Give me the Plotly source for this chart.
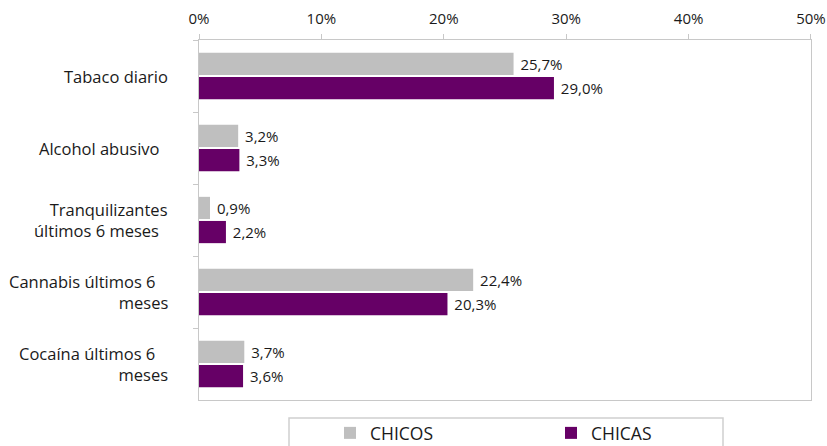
import plotly.graph_objects as go

categories = ["Tabaco diario", "Alcohol abusivo", "Tranquilizantes últimos 6 meses",
              "Cannabis últimos 6 meses", "Cocaína últimos 6 meses"]
category_labels = ["Tabaco diario", "Alcohol abusivo\u00a0\u00a0",
                   "Tranquilizantes<br>últimos 6 meses\u00a0\u00a0",
                   "Cannabis últimos 6\u00a0\u00a0\u00a0<br>meses",
                   "Cocaína últimos 6\u00a0\u00a0\u00a0<br>meses"]
chicos = [25.7, 3.2, 0.9, 22.4, 3.7]
chicas = [29.0, 3.3, 2.2, 20.3, 3.6]
series_names = ["CHICOS", "CHICAS"]
tick_vals = [0, 10, 20, 30, 40, 50]
tick_text = ["0%", "10%", "20%", "30%", "40%", "50%"]

FONT = "Open Sans"
TXT = "#1a1a1a"
L, R, T, B = 199, 16, 40, 46
PW = 827 - L - R
PH = 446 - T - B

def fmt(v):
    return "\u00a0" + f"{v:.1f}".replace(".", ",") + "%"

fig = go.Figure()
for name, vals, col in [(series_names[0], chicos, "#BFBFBF"), (series_names[1], chicas, "#660066")]:
    fig.add_trace(go.Bar(
        y=categories, x=vals, name=name, orientation="h",
        marker=dict(color=col, line=dict(width=0)),
        text=[fmt(v) for v in vals], textposition="outside",
        textfont=dict(family=FONT, size=15, color=TXT),
        cliponaxis=False,
    ))

annotations = []
for cat, lab in zip(categories, category_labels):
    annotations.append(dict(
        x=(170 - L) / PW, xref="paper", y=cat, yref="y",
        xanchor="right", yanchor="middle", align="right", showarrow=False,
        text=lab, font=dict(family=FONT, size=16.5, color=TXT),
    ))

fig.update_layout(
    width=827, height=446,
    margin=dict(l=L, r=R, t=T, b=B, autoexpand=False),
    paper_bgcolor="white", plot_bgcolor="white",
    barmode="group", bargap=0.33, bargroupgap=0.08,
    font=dict(family=FONT, size=15, color=TXT),
    showlegend=True,
    legend=dict(orientation="h", x=(330 - L) / PW, xanchor="left",
                y=(T + PH - 433) / PH, yanchor="middle",
                entrywidth=176, entrywidthmode="pixels",
                font=dict(family=FONT, size=17.5, color=TXT),
                bgcolor="rgba(0,0,0,0)", borderwidth=0, traceorder="normal"),
    xaxis=dict(side="top", range=[0, 50.001], tickvals=tick_vals, ticktext=tick_text,
               showgrid=False, zeroline=False, showline=True, mirror=True,
               linecolor="#C8C8C8", linewidth=1, ticks="outside", ticklen=5,
               tickcolor="#C8C8C8", ticklabelstandoff=4, ticklabeloverflow="allow",
               tickfont=dict(family=FONT, size=15, color=TXT)),
    yaxis=dict(autorange="reversed", showgrid=False, zeroline=False, showline=True,
               mirror=True, linecolor="#C8C8C8", linewidth=1, ticks="outside",
               tickson="boundaries", ticklen=5, tickcolor="#C8C8C8",
               showticklabels=False),
    annotations=annotations,
    shapes=[dict(type="rect", xref="paper", yref="paper",
                 x0=(289 - L) / PW, x1=(723 - L) / PW,
                 y0=(T + PH - 460) / PH, y1=(T + PH - 418) / PH,
                 line=dict(color="#D0D0D0", width=1.5),
                 fillcolor="rgba(0,0,0,0)", layer="below")],
)

fig.write_html("out.html")
